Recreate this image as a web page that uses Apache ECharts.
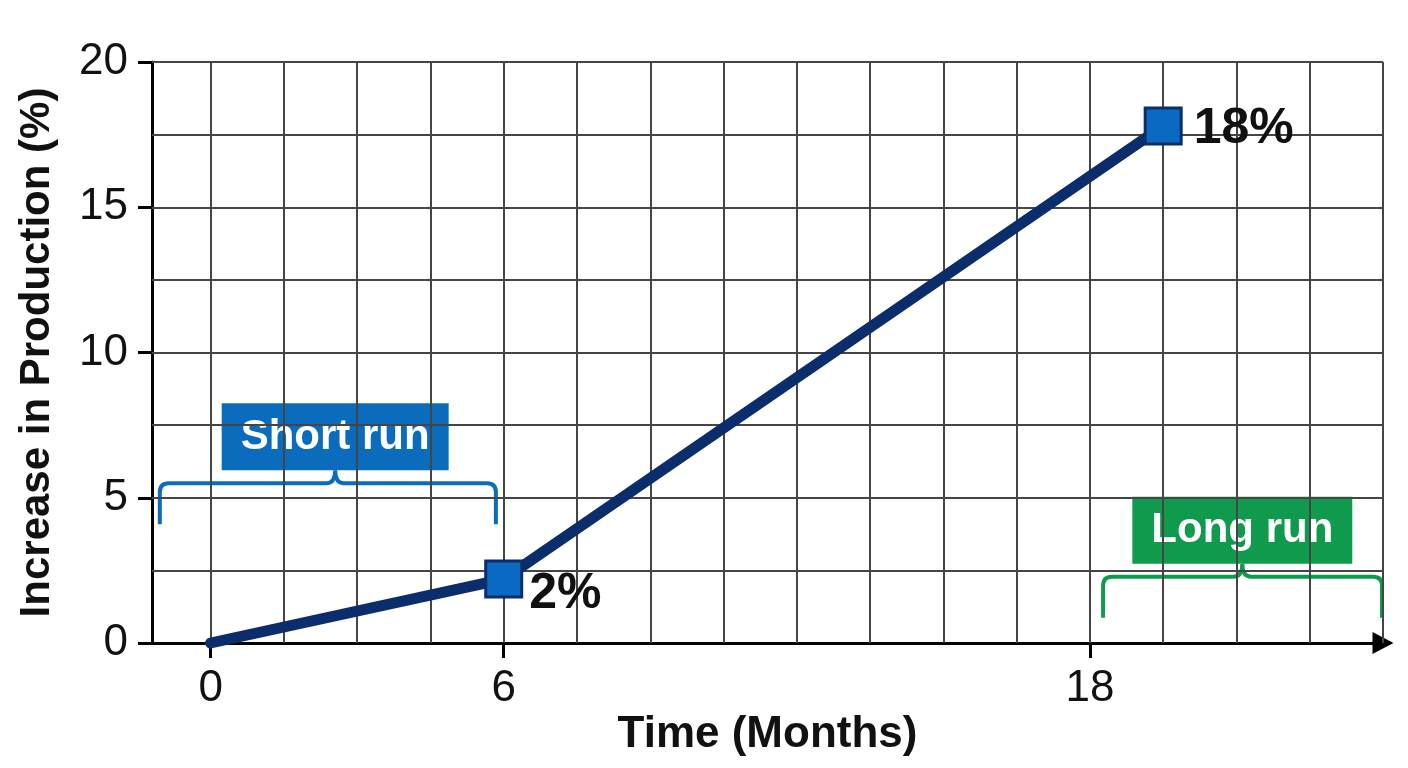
<!DOCTYPE html>
<html>
<head>
<meta charset="utf-8">
<script src="https://cdn.jsdelivr.net/npm/echarts@6.0.0/dist/echarts.min.js"></script>
<style>
  html, body { margin: 0; padding: 0; background: #ffffff; }
  #chart { width: 1408px; height: 768px; }
</style>
</head>
<body>
<div id="chart"></div>
<script>
// ---- data ----
const months = [0, 6, 19.5];
const production = [0, 2.2, 17.8];
const pointLabels = ['', '2%', '18%'];
const xTickValues = [0, 6, 18];
const yTickValues = [0, 5, 10, 15, 20];
const xGridLines = [0, 1.5, 3, 4.5, 6, 7.5, 9, 10.5, 12, 13.5, 15, 16.5, 18, 19.5, 21, 22.5, 24];
const yGridLines = [2.5, 5, 7.5, 10, 12.5, 15, 17.5, 20];
const annotationNames = ['Short run', 'Long run'];
const annotationStart = [-1.04, 18.27];
const annotationEnd = [5.84, 23.98];
const annotationPeak = [2.55, 21.12];
const annotationLevel = [5.5, 2.28];

const FONT = '"Liberation Sans", Arial, sans-serif';
const NAVY = '#0c2d6b';
const annotationColors = ['#0b6cbd', '#0f9a4d'];

const chart = echarts.init(document.getElementById('chart'), null, { renderer: 'canvas' });

const linePoints = months.map((m, i) => ({
  value: [m, production[i]],
  symbol: i === 0 ? 'none' : 'rect',
  label: {
    show: pointLabels[i] !== '',
    formatter: pointLabels[i],
    position: 'right',
    distance: i === 1 ? 6 : 11,
    offset: i === 1 ? [0, 15] : [0, 3]
  }
}));

const annotationData = annotationNames.map((n, i) =>
  [annotationStart[i], annotationEnd[i], annotationLevel[i], i, annotationPeak[i]]);

const option = {
  animation: false,
  backgroundColor: '#ffffff',
  grid: { left: 152, right: 25, top: 62, bottom: 125 },
  xAxis: {
    type: 'value',
    min: -1.2,
    max: 24,
    name: 'Time (Months)',
    nameLocation: 'middle',
    nameGap: 70,
    nameMoveOverlap: false,
    nameTextStyle: { fontSize: 44, fontWeight: 'bold', color: '#111', fontFamily: FONT },
    axisLine: {
      show: true, onZero: false,
      symbol: ['none', 'triangle'], symbolSize: [22, 21],
      lineStyle: { color: '#000', width: 3 }
    },
    axisTick: { show: true, customValues: xTickValues, length: 15, lineStyle: { color: '#000', width: 3 } },
    axisLabel: { show: true, customValues: xTickValues, fontSize: 44, color: '#111', fontFamily: FONT, margin: 24 },
    splitLine: { show: false }
  },
  yAxis: {
    type: 'value',
    min: 0,
    max: 20,
    name: 'Increase in Production (%)',
    nameLocation: 'middle',
    nameGap: 94,
    nameMoveOverlap: false,
    nameTextStyle: { fontSize: 42, fontWeight: 'bold', color: '#111', fontFamily: FONT },
    axisLine: { show: true, onZero: false, lineStyle: { color: '#000', width: 3 } },
    axisTick: { show: true, customValues: yTickValues, length: 14, lineStyle: { color: '#000', width: 3 } },
    axisLabel: { show: true, customValues: yTickValues, fontSize: 44, color: '#111', fontFamily: FONT, margin: 24 },
    splitLine: { show: false }
  },
  series: [
    {
      name: 'grid',
      type: 'line',
      data: months.map((m, i) => [m, production[i]]),
      symbol: 'none',
      lineStyle: { opacity: 0 },
      silent: true,
      z: 1,
      markLine: {
        silent: true,
        symbol: ['none', 'none'],
        label: { show: false },
        emphasis: { disabled: true },
        animation: false,
        lineStyle: { color: '#454545', width: 2, type: 'solid' },
        data: xGridLines.map(v => ({ xAxis: v })).concat(yGridLines.map(v => ({ yAxis: v })))
      }
    },
    {
      name: 'Increase in Production',
      type: 'line',
      data: linePoints,
      clip: false,
      z: 5,
      showSymbol: true,
      symbolSize: 36,
      lineStyle: { color: NAVY, width: 11, cap: 'round', join: 'round' },
      itemStyle: { color: '#0a6ac2', borderColor: NAVY, borderWidth: 3 },
      label: { fontSize: 50, fontWeight: 'bold', color: '#111', fontFamily: FONT },
      emphasis: { disabled: true }
    },
    {
      name: 'annotations',
      type: 'custom',
      data: annotationData,
      encode: { x: [0, 1], y: 2 },
      clip: false,
      silent: true,
      z: 4,
      renderItem: function (params, api) {
        const i = api.value(3);
        const p0 = api.coord([api.value(0), api.value(2)]);
        const p1 = api.coord([api.value(1), api.value(2)]);
        const pm = api.coord([api.value(4), api.value(2)]);
        const y = p0[1];
        const x0 = p0[0], x1 = p1[0];
        const mid = pm[0];
        const drop = 41, r = 9, peak = 13;
        const d = [
          'M', x0, y + drop,
          'L', x0, y + r,
          'Q', x0, y, x0 + r, y,
          'L', mid - r, y,
          'Q', mid, y, mid, y - peak,
          'Q', mid, y, mid + r, y,
          'L', x1 - r, y,
          'Q', x1, y, x1, y + r,
          'L', x1, y + drop
        ].join(' ');
        const color = annotationColors[i];
        return {
          type: 'group',
          children: [
            {
              type: 'path',
              shape: { pathData: d },
              style: { stroke: color, lineWidth: 4, fill: null }
            },
            {
              type: 'text',
              x: mid,
              y: y - peak,
              style: {
                text: annotationNames[i],
                fill: '#ffffff',
                fontSize: 42,
                fontWeight: 'bold',
                fontFamily: FONT,
                align: 'center',
                verticalAlign: 'bottom',
                lineHeight: 44,
                backgroundColor: color,
                padding: [12, 19, 11, 19]
              }
            }
          ]
        };
      }
    }
  ]
};

chart.setOption(option);
</script>
</body>
</html>
